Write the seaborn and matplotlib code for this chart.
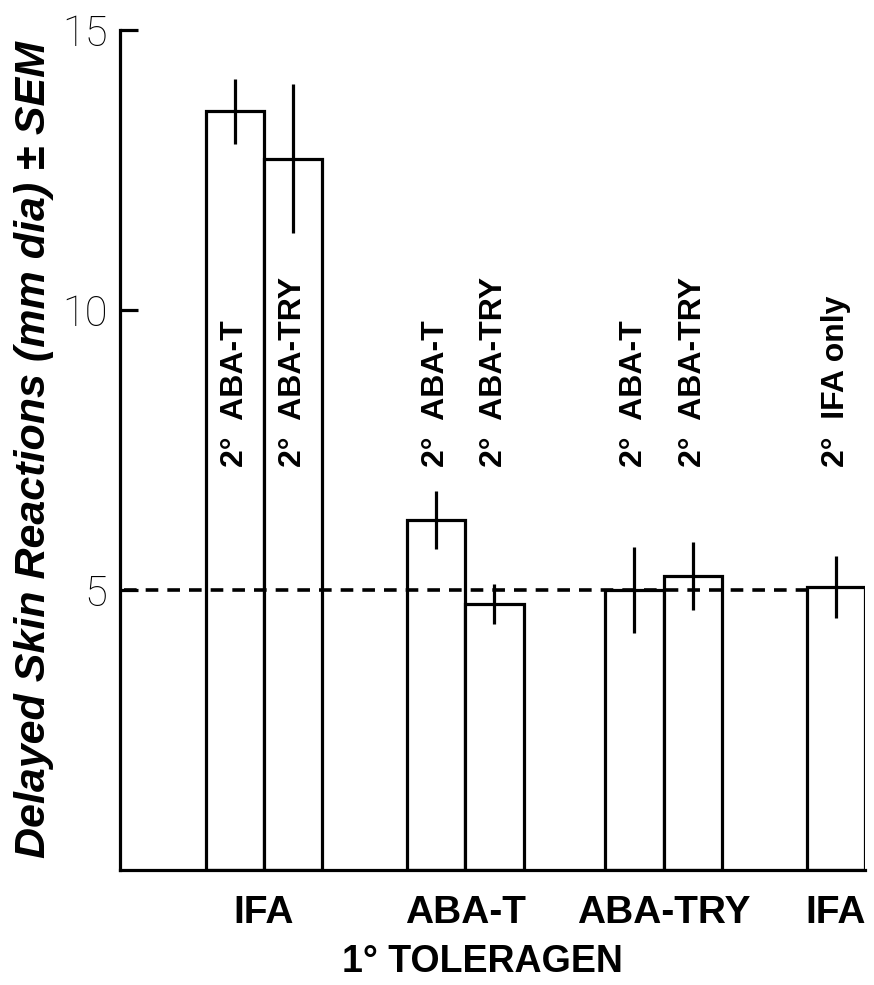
import matplotlib
matplotlib.use("Agg")
import matplotlib.pyplot as plt
import seaborn as sns
import pandas as pd

# Primary toleragen groups and the secondary challenge within each group
groups = ["IFA", "ABA-T", "ABA-TRY", "IFA"]
group_centers = [2.5, 5.95, 9.35, 12.3]
challenges = ["2°  ABA-T", "2°  ABA-TRY", "2°  ABA-T", "2°  ABA-TRY",
              "2°  ABA-T", "2°  ABA-TRY", "2°  IFA only"]
bar_positions = [2.0, 3.0, 5.45, 6.45, 8.85, 9.85, 12.3]
means = [13.55, 12.7, 6.25, 4.75, 5.0, 5.25, 5.05]
sem = [0.58, 1.33, 0.52, 0.36, 0.76, 0.6, 0.55]
baseline = 5.0

df = pd.DataFrame({"pos": bar_positions, "mean": means, "sem": sem,
                   "challenge": challenges})

sns.set_style("ticks")
plt.rcParams["font.family"] = ["Liberation Sans", "DejaVu Sans"]
plt.rcParams["text.color"] = "black"
plt.rcParams["axes.labelcolor"] = "black"
plt.rcParams["xtick.color"] = "black"
plt.rcParams["ytick.color"] = "black"

fig = plt.figure(figsize=(8.74, 9.85), dpi=100)
ax = fig.add_axes([120 / 874, 115 / 985, 745 / 874, 840 / 985])

lw = 2.3
sns.barplot(data=df, x="pos", y="mean", native_scale=True, width=1.0,
            color="white", edgecolor="black", linewidth=lw,
            errorbar=None, ax=ax, zorder=2)

ax.errorbar(df["pos"], df["mean"], yerr=df["sem"], fmt="none",
            ecolor="black", elinewidth=lw, capsize=0, zorder=4)

# Control level (IFA only) drawn across the chart
ax.hlines(baseline, 0.1, 11.8, colors="black", linestyles=(0, (3.5, 2.5)),
          linewidth=lw + 0.3, zorder=3)

for x, label in zip(df["pos"], df["challenge"]):
    ax.text(x, 7.2, label, rotation=90, ha="center", va="bottom",
            fontsize=23, fontweight="bold", color="black", zorder=5)

ax.set_xlim(0.034, 12.8)
ax.set_ylim(0, 15)
ax.set_yticks([5, 10, 15])
ax.set_yticklabels(["5", "10", "15"], fontsize=30, fontweight="light",
                   family=["Roboto", "DejaVu Sans"], color="black")
ax.tick_params(axis="y", direction="in", length=13, width=lw, pad=9)
ax.set_xticks(group_centers)
ax.set_xticklabels(groups, fontsize=28, fontweight="bold", color="black")
ax.tick_params(axis="x", length=0, pad=18)

ax.set_xlabel("1° TOLERAGEN", fontsize=27, fontweight="bold", color="black")
ax.xaxis.set_label_coords(0.486, -0.088)
ax.set_ylabel("Delayed Skin Reactions (mm dia) ± SEM", fontsize=31,
              fontweight="bold", fontstyle="italic", color="black")
ax.yaxis.set_label_coords(-0.088, 0.5)

for side in ["top", "right"]:
    ax.spines[side].set_visible(False)
for side in ["left", "bottom"]:
    ax.spines[side].set_linewidth(lw)
    ax.spines[side].set_color("black")

fig.savefig("out.png", dpi=100, facecolor="white")
